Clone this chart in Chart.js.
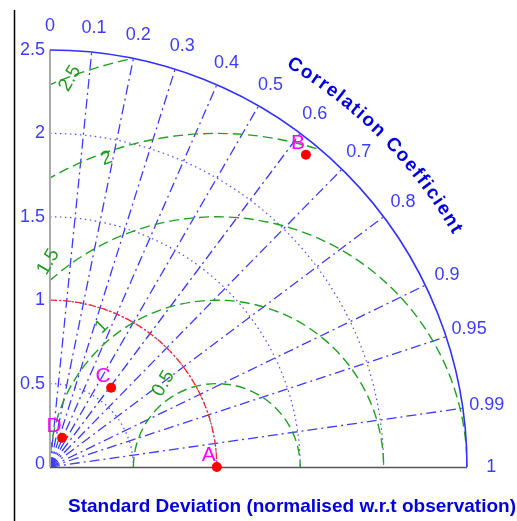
<!DOCTYPE html>
<html>
<head>
<meta charset="utf-8">
<script src="https://cdn.jsdelivr.net/npm/chart.js@4.4.0/dist/chart.umd.min.js"></script>
<style>
  html, body { margin: 0; padding: 0; background: #fff; }
  canvas { display: block; }
</style>
</head>
<body>
<canvas id="taylor" width="517" height="521"></canvas>
<script>
// model statistics (normalised std dev + correlation with observation)
const models = ['A', 'B', 'C', 'D'];
const stdDev = [1.0, 2.42, 0.60, 0.19];
const corrCoef = [1.0, 0.634, 0.611, 0.383];

// grid / tick values
const stdTicks = [0, 0.5, 1, 1.5, 2, 2.5];
const stdArcs = [0.5, 1, 1.5, 2];
const corrTicks = [0, 0.1, 0.2, 0.3, 0.4, 0.5, 0.6, 0.7, 0.8, 0.9, 0.95, 0.99, 1];
const corrLines = [0.1, 0.2, 0.3, 0.4, 0.5, 0.6, 0.7, 0.8, 0.9, 0.95, 0.99];
const rmsArcs = [0.5, 1, 1.5, 2, 2.5];
const rmsLabels = ['0.5', '1', '1.5', '2', '2.5'];

// where the rms labels sit (std dev space) and their tilt
const rmsLabelAt = [
  { x: 0.68, y: 0.50, rot: -60 },
  { x: 0.31, y: 0.84, rot: -45 },
  { x: -0.01, y: 1.23, rot: -60 },
  { x: 0.34, y: 1.85, rot: -20 },
  { x: 0.12, y: 2.33, rot: -60 }
];

const maxStd = 2.5;
const points = models.map((m, i) => ({
  x: stdDev[i] * corrCoef[i],
  y: stdDev[i] * Math.sqrt(1 - corrCoef[i] * corrCoef[i])
}));

const taylorGrid = {
  id: 'taylorGrid',
  beforeDatasetsDraw(chart) {
    const { ctx, scales: { x, y } } = chart;
    const ox = x.getPixelForValue(0), oy = y.getPixelForValue(0);
    const unit = x.getPixelForValue(1) - ox;
    const R = maxStd * unit;
    ctx.save();

    // left frame line
    ctx.strokeStyle = '#000';
    ctx.lineWidth = 1.5;
    ctx.beginPath();
    ctx.moveTo(14.5, 10);
    ctx.lineTo(14.5, 521);
    ctx.stroke();

    // blue dotted std dev arcs
    ctx.strokeStyle = '#4a4aff';
    ctx.lineWidth = 1.2;
    ctx.setLineDash([1.5, 3.5]);
    stdArcs.forEach(r => {
      ctx.beginPath();
      ctx.arc(ox, oy, r * unit, -Math.PI / 2, 0);
      ctx.stroke();
    });

    // radial correlation lines
    ctx.strokeStyle = '#3c3cff';
    ctx.lineWidth = 1.3;
    ctx.setLineDash([10, 4, 2, 4]);
    corrLines.forEach(c => {
      const t = Math.acos(c);
      ctx.beginPath();
      ctx.moveTo(ox, oy);
      ctx.lineTo(ox + R * Math.cos(t), oy - R * Math.sin(t));
      ctx.stroke();
    });

    // green rms circles, clipped to the quarter disc
    ctx.save();
    ctx.beginPath();
    ctx.moveTo(ox, oy);
    ctx.arc(ox, oy, R, -Math.PI / 2, 0);
    ctx.closePath();
    ctx.clip();
    ctx.strokeStyle = '#22a022';
    ctx.lineWidth = 1.4;
    ctx.setLineDash([10, 5]);
    const cx = x.getPixelForValue(1);
    rmsArcs.forEach(r => {
      ctx.beginPath();
      ctx.arc(cx, oy, r * unit, Math.PI, 2 * Math.PI);
      ctx.stroke();
    });
    ctx.restore();

    // red reference arc
    ctx.strokeStyle = '#ff2a2a';
    ctx.lineWidth = 1.3;
    ctx.setLineDash([7, 2, 2, 2]);
    ctx.beginPath();
    ctx.arc(ox, oy, unit, -Math.PI / 2, 0);
    ctx.stroke();

    // axes
    ctx.setLineDash([]);
    ctx.strokeStyle = '#aaaaaa';
    ctx.lineWidth = 2;
    ctx.beginPath();
    ctx.moveTo(ox, oy - R);
    ctx.lineTo(ox, oy);
    ctx.stroke();
    ctx.strokeStyle = '#555';
    ctx.lineWidth = 1.5;
    ctx.beginPath();
    ctx.moveTo(ox, oy + 0.5);
    ctx.lineTo(ox + R, oy + 0.5);
    ctx.stroke();

    // outer arc
    ctx.strokeStyle = '#3030ff';
    ctx.lineWidth = 1.6;
    ctx.beginPath();
    ctx.arc(ox, oy, R, -Math.PI / 2, 0);
    ctx.stroke();

    // rms labels
    ctx.fillStyle = '#229922';
    ctx.font = '19px "Liberation Sans", Arial, sans-serif';
    ctx.textAlign = 'center';
    ctx.textBaseline = 'middle';
    rmsLabels.forEach((lab, i) => {
      const p = rmsLabelAt[i];
      ctx.save();
      ctx.translate(x.getPixelForValue(p.x), y.getPixelForValue(p.y));
      ctx.rotate(p.rot * Math.PI / 180);
      ctx.fillText(lab, 0, 0);
      ctx.restore();
    });

    // std dev tick labels
    ctx.fillStyle = '#3c3cff';
    ctx.font = '18px "Liberation Sans", Arial, sans-serif';
    ctx.textAlign = 'right';
    stdTicks.forEach(v => {
      ctx.fillText(String(v), ox - 5, y.getPixelForValue(v) - (v === 0 ? 3 : 0));
    });

    // correlation tick labels
    ctx.textAlign = 'center';
    const lr = 2.645 * unit;
    corrTicks.forEach(c => {
      const t = Math.acos(c);
      ctx.fillText(String(c), ox + lr * Math.cos(t), oy - lr * Math.sin(t));
    });

    // curved axis title
    const title = 'Correlation Coefficient';
    ctx.fillStyle = '#0000dd';
    ctx.font = 'bold 19px "Liberation Sans", Arial, sans-serif';
    const tr = 2.82 * unit;
    const a0 = 59.5 * Math.PI / 180, a1 = 30 * Math.PI / 180;
    const widths = [...title].map(ch => ctx.measureText(ch).width);
    const total = widths.reduce((s, w) => s + w, 0);
    const span = (a0 - a1) * tr;
    const gap = (span - total) / (title.length - 1);
    let s = 0;
    [...title].forEach((ch, i) => {
      const ang = a0 - (s + widths[i] / 2) / tr;
      ctx.save();
      ctx.translate(ox + tr * Math.cos(ang), oy - tr * Math.sin(ang));
      ctx.rotate(Math.PI / 2 - ang);
      ctx.fillText(ch, 0, 0);
      ctx.restore();
      s += widths[i] + gap;
    });

    // bottom axis title
    ctx.textAlign = 'left';
    ctx.font = 'bold 19px "Liberation Sans", Arial, sans-serif';
    ctx.fillText('Standard Deviation (normalised w.r.t observation)', 68, 507);

    ctx.restore();
  },
  afterDatasetsDraw(chart) {
    const { ctx } = chart;
    const meta = chart.getDatasetMeta(0);
    ctx.save();
    ctx.fillStyle = '#ff00ff';
    ctx.font = '21px "Liberation Sans", Arial, sans-serif';
    ctx.textAlign = 'center';
    ctx.textBaseline = 'middle';
    meta.data.forEach((pt, i) => {
      ctx.fillText(models[i], pt.x - 8, pt.y - 12);
    });
    ctx.restore();
  }
};

new Chart(document.getElementById('taylor'), {
  type: 'scatter',
  data: {
    datasets: [{
      label: 'models',
      data: points,
      backgroundColor: '#ff0000',
      borderWidth: 0,
      pointRadius: 5,
      clip: false
    }]
  },
  options: {
    responsive: false,
    animation: false,
    devicePixelRatio: 1,
    layout: { padding: { left: 50, top: 50, right: 50, bottom: 54 } },
    plugins: { legend: { display: false }, tooltip: { enabled: false } },
    scales: {
      x: { type: 'linear', min: 0, max: maxStd, display: false },
      y: { type: 'linear', min: 0, max: maxStd, display: false }
    }
  },
  plugins: [taylorGrid]
});
</script>
</body>
</html>
